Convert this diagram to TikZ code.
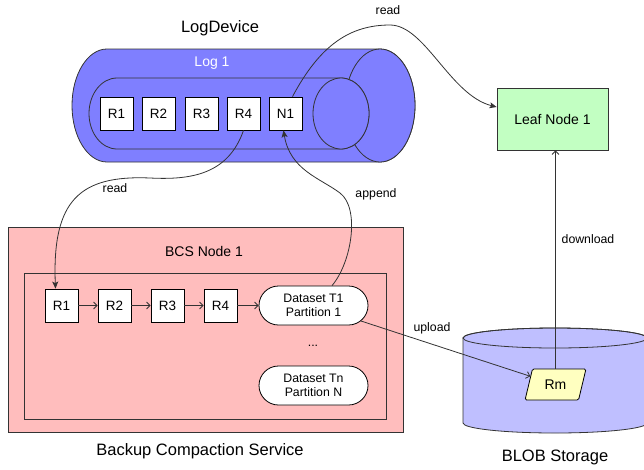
\documentclass[tikz,border=0pt]{standalone}
\usepackage{fontspec}
\setmainfont{Liberation Sans}
\usetikzlibrary{arrows.meta,shapes.geometric,shapes.misc}
\definecolor{logblue}{HTML}{7F7FFF}
\definecolor{blobblue}{HTML}{BFBFFF}
\definecolor{bcspink}{HTML}{FFBDBD}
\definecolor{leafgreen}{HTML}{C2FFC2}
\definecolor{rmyellow}{HTML}{FFFFC0}
\definecolor{edgegray}{HTML}{333333}
\begin{document}
\begin{tikzpicture}[x=1pt,y=-1pt,
  rbox/.style={draw=black, line width=0.8pt, fill=white, minimum width=33pt, minimum height=33pt, inner sep=0pt, font=\fontsize{13.5}{15}\selectfont},
  pill/.style={rounded rectangle, draw=black, line width=0.8pt, fill=white, minimum width=109pt, minimum height=39pt, inner sep=0pt, align=center, font=\fontsize{12.3}{14}\selectfont},
  lbl/.style={inner sep=0pt, font=\fontsize{12.3}{14}\selectfont},
  midlbl/.style={inner sep=0pt, font=\fontsize{14}{16}\selectfont},
  biglbl/.style={inner sep=0pt, font=\fontsize{16.5}{18}\selectfont},
  shapeline/.style={draw=edgegray, line width=0.8pt},
  fillarrow/.style={draw=edgegray, line width=0.8pt, -{Stealth[length=7pt,width=6pt,inset=1.5pt]}},
  openarrow/.style={draw=edgegray, line width=0.8pt, -{Straight Barb[length=3.5pt,width=7pt]}},
]
\useasboundingbox (0,0) rectangle (644,469);

% ---------- LogDevice cylinder ----------
\path[shapeline, fill=logblue] (380,49) -- (107,49)
  arc[start angle=270, end angle=90, x radius=35, y radius=56.5]
  -- (380,162)
  arc[start angle=90, end angle=-90, x radius=35, y radius=56.5] -- cycle;
\path[shapeline, fill=logblue] (380,105.5) ellipse [x radius=35, y radius=56.5];
% inner tube
\path[shapeline, fill=logblue] (341,78) -- (117,78)
  arc[start angle=270, end angle=90, x radius=28, y radius=35.5]
  -- (341,149)
  arc[start angle=90, end angle=-90, x radius=28, y radius=35.5] -- cycle;
\path[shapeline, fill=logblue] (341,113.5) ellipse [x radius=28, y radius=35.5];

\node[biglbl] (logdev) at (220,28) {LogDevice};
\node[midlbl, text=white] (log1) at (212,63) {Log 1};

\node[rbox] (r1a) at (116.5,113.5) {R1};
\node[rbox] (r2a) at (158.5,113.5) {R2};
\node[rbox] (r3a) at (201.5,113.5) {R3};
\node[rbox] (r4a) at (243.5,113.5) {R4};
\node[rbox] (n1)  at (285.5,113.5) {N1};

% ---------- Leaf node ----------
\node[draw=edgegray, line width=0.8pt, fill=leafgreen, minimum width=111pt, minimum height=62pt, inner sep=0pt, font=\fontsize{14}{16}\selectfont] (leaf) at (552.5,119) {Leaf Node 1};

% ---------- BCS ----------
\node[draw=edgegray, line width=0.8pt, fill=bcspink, minimum width=395pt, minimum height=205pt, inner sep=0pt] (bcs) at (205.5,329.5) {};
\node[draw=edgegray, line width=0.8pt, fill=bcspink, minimum width=362pt, minimum height=146pt, inner sep=0pt] (bcsin) at (205,346) {};
\node[midlbl] (bcsl) at (204,251) {BCS Node 1};

\node[rbox] (r1b) at (61.5,305.5) {R1};
\node[rbox] (r2b) at (114.5,305.5) {R2};
\node[rbox] (r3b) at (167.5,305.5) {R3};
\node[rbox] (r4b) at (220.5,305.5) {R4};
\node[pill] (t1) at (313.5,305.5) {Dataset T1\\Partition 1};
\node[lbl] (dots) at (313,346) {...};
\node[pill] (tn) at (313.5,385.5) {Dataset Tn\\Partition N};

\node[biglbl] (bcsname) at (200,451) {Backup Compaction Service};

% ---------- BLOB storage ----------
\path[shapeline, fill=blobblue] (463,338) -- (463,423)
  arc[start angle=180, end angle=0, x radius=92, y radius=10]
  -- (647,338)
  arc[start angle=360, end angle=180, x radius=92, y radius=10] -- cycle;
\path[shapeline] (555,338) ellipse [x radius=92, y radius=10];
\node[biglbl] (blobname) at (555,457) {BLOB Storage};

\node[trapezium, trapezium left angle=70, trapezium right angle=110, trapezium stretches=true,
  minimum width=61pt, minimum height=31pt, inner sep=0pt, draw=black, line width=0.8pt,
  fill=rmyellow, rounded corners=1.5pt, font=\fontsize{14}{16}\selectfont] (rm) at (555.5,384.5) {Rm};

% ---------- connectors ----------
\draw[fillarrow] ([xshift=7pt]n1.north) .. controls (320,45) and (350,25) .. (390,25)
  .. controls (425,25) and (450,95) .. ([yshift=12pt]leaf.west);
\node[lbl] (readtop) at (388,10) {read};

\draw[fillarrow] (r4a.south) .. controls (228,175) and (190,180) .. (150,178)
  .. controls (80,175) and (52,200) .. ([xshift=-6pt]r1b.north);
\node[lbl] (readlow) at (115,188) {read};

\draw[fillarrow] ([xshift=18.5pt]t1.north) .. controls (352,262) and (360,208) .. (340,193)
  .. controls (320,178) and (290,170) .. ([xshift=-2pt]n1.south);
\node[lbl] (appendl) at (376,194) {append};

\draw[openarrow] (r1b) -- (r2b);
\draw[openarrow] (r2b) -- (r3b);
\draw[openarrow] (r3b) -- (r4b);
\draw[openarrow] (r4b) -- (t1);

\draw[openarrow] (t1) -- (rm);
\node[lbl] (uploadl) at (432,328) {upload};

\draw[openarrow] (rm.north) -- (rm.north |- leaf.south);
\node[lbl] (downloadl) at (588,239) {download};
\end{tikzpicture}
\end{document}
